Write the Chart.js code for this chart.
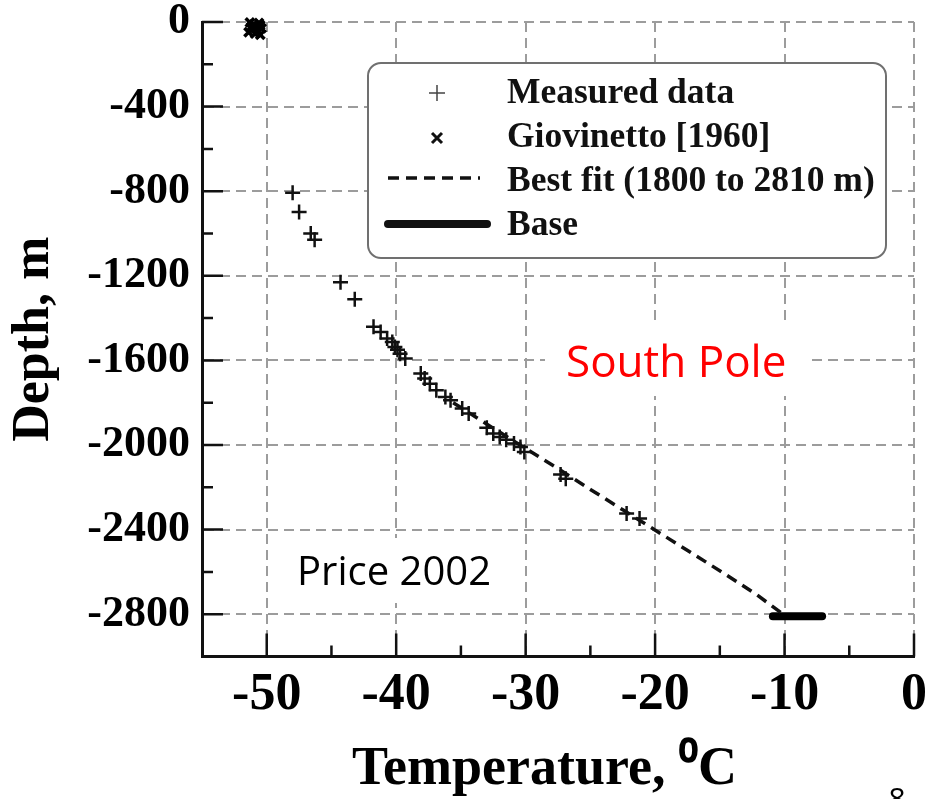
<!DOCTYPE html>
<html>
<head>
<meta charset="utf-8">
<script src="https://cdn.jsdelivr.net/npm/chart.js@4.4.1/dist/chart.umd.min.js"></script>
<style>
  html, body { margin: 0; padding: 0; background: #fff; }
  #depthChart { display: block; }
</style>
</head>
<body>
<canvas id="depthChart" width="936" height="799"></canvas>
<script>
// Borehole temperature vs depth, South Pole

// measured borehole temperatures (degC) and depths (m)
const measuredTemp = [-48.0, -47.5, -46.6, -46.3, -44.3, -43.2, -41.75, -41.2, -40.7, -40.3, -40.1,
  -39.9, -39.7, -39.3, -38.1, -37.8, -37.4, -36.9, -36.2, -35.8, -34.9, -34.4, -33.0, -32.5,
  -32.0, -31.5, -30.9, -30.4, -30.1, -27.3, -26.9, -22.2, -21.2];
const measuredDepth = [-807, -898, -1000, -1030, -1230, -1311, -1441, -1466, -1497, -1513, -1537,
  -1550, -1568, -1591, -1662, -1686, -1710, -1741, -1773, -1789, -1828, -1851, -1918, -1946,
  -1962, -1975, -1993, -2009, -2033, -2140, -2159, -2324, -2348];

// shallow firn temperatures, Giovinetto [1960]
const giovinettoTemp = [-51.3, -50.6, -51.0, -50.5, -51.2, -50.8, -50.4, -51.1, -50.7, -51.4, -50.9, -50.5];
const giovinettoDepth = [-2, -5, -12, -15, -22, -25, -30, -36, -42, -48, -55, -60];

// best fit over 1800 to 2810 m
const fitTemp = [-35.6, -32.9, -30.3, -27.6, -25.0, -22.4, -19.8, -17.2, -14.6, -12.1, -9.9];
const fitDepth = [-1800, -1905, -2005, -2108, -2210, -2310, -2410, -2510, -2610, -2710, -2810];

// ice sheet base
const baseTemp = [-10.9, -7.1];
const baseDepth = [-2810, -2810];

const tempTicks = [-50, -40, -30, -20, -10, 0];
const tempMinorTicks = [-45, -35, -25, -15, -5];
const depthTicks = [-2800, -2400, -2000, -1600, -1200, -800, -400, 0];
const depthMinorTicks = [-2600, -2200, -1800, -1400, -1000, -600, -200];

const SERIF = '"Liberation Serif", "Times New Roman", serif';
const SANS = '"Open Sans", "Noto Sans", sans-serif';
const INK = '#111';

function toPoints(xs, ys) {
    return xs.map((x, i) => ({ x: x, y: ys[i] }));
}

// short inward tick marks on the left and bottom axes
const tickMarks = {
    id: 'tickMarks',
    afterDraw(chart) {
        const { ctx, chartArea, scales: { x, y } } = chart;
        ctx.save();
        ctx.strokeStyle = INK;
        ctx.lineWidth = 2.5;
        ctx.beginPath();
        const xTick = (v, len) => {
            const px = x.getPixelForValue(v);
            ctx.moveTo(px, chartArea.bottom);
            ctx.lineTo(px, chartArea.bottom - len);
        };
        const yTick = (v, len) => {
            const py = y.getPixelForValue(v);
            ctx.moveTo(chartArea.left, py);
            ctx.lineTo(chartArea.left + len, py);
        };
        tempTicks.forEach(v => xTick(v, 23));
        tempMinorTicks.forEach(v => xTick(v, 11));
        depthTicks.forEach(v => yTick(v, 21));
        depthMinorTicks.forEach(v => yTick(v, 11));
        ctx.stroke();
        ctx.restore();
    }
};

// text notes on white patches
const notes = {
    id: 'notes',
    afterDraw(chart) {
        const ctx = chart.ctx;
        ctx.save();
        ctx.fillStyle = '#fff';
        ctx.fillRect(545, 326, 263, 70);
        ctx.fillRect(284, 538, 222, 65);
        ctx.textBaseline = 'alphabetic';
        ctx.textAlign = 'left';
        ctx.font = '44px ' + SANS;
        ctx.fillStyle = '#ff0000';
        ctx.fillText('South Pole', 566, 377);
        ctx.font = '40px ' + SANS;
        ctx.fillStyle = '#000';
        ctx.fillText('Price 2002', 297, 585);
        ctx.font = '30px ' + SANS;
        ctx.textAlign = 'center';
        ctx.fillText('8', 897, 809);
        ctx.restore();
    }
};

// rounded legend box inside the plot
const boxLegend = {
    id: 'boxLegend',
    afterDraw(chart) {
        const ctx = chart.ctx;
        const box = { left: 368, top: 63, right: 886, bottom: 258 };
        const baselines = [103, 147, 191, 235];
        const marks = [93, 138, 178, 224];
        ctx.save();
        ctx.beginPath();
        ctx.roundRect(box.left, box.top, box.right - box.left, box.bottom - box.top, 13);
        ctx.fillStyle = '#fff';
        ctx.fill();
        ctx.lineWidth = 2;
        ctx.strokeStyle = '#707070';
        ctx.stroke();

        chart.data.datasets.forEach((ds, i) => {
            const my = marks[i];
            ctx.save();
            ctx.strokeStyle = INK;
            ctx.beginPath();
            if (ds.showLine) {
                ctx.lineWidth = ds.borderWidth;
                ctx.lineCap = ds.borderCapStyle || 'butt';
                ctx.setLineDash(ds.borderDash || []);
                const end = ds.borderDash ? 480 : 487;
                ctx.moveTo(388, my);
                ctx.lineTo(end, my);
            } else if (ds.pointStyle === 'cross') {
                ctx.lineWidth = 1.5;
                ctx.strokeStyle = '#444';
                ctx.moveTo(429, my); ctx.lineTo(445, my);
                ctx.moveTo(437, my - 8); ctx.lineTo(437, my + 8);
            } else {
                ctx.lineWidth = 3;
                ctx.moveTo(432, my - 5); ctx.lineTo(442, my + 5);
                ctx.moveTo(442, my - 5); ctx.lineTo(432, my + 5);
            }
            ctx.stroke();
            ctx.restore();
            ctx.font = 'bold 35.5px ' + SERIF;
            ctx.fillStyle = INK;
            ctx.textBaseline = 'alphabetic';
            ctx.fillText(ds.label, 507, baselines[i]);
        });
        ctx.restore();
    }
};

const axisBase = {
    type: 'linear',
    grid: { color: '#9c9c9c', lineWidth: 2, drawTicks: false },
    border: { display: true, color: INK, width: 3, dash: [10, 6] }
};

new Chart(document.getElementById('depthChart'), {
    type: 'scatter',
    data: {
        datasets: [{
            label: 'Measured data',
            data: toPoints(measuredTemp, measuredDepth),
            pointStyle: 'cross',
            pointRadius: 7.5,
            pointBorderWidth: 2.5,
            borderColor: INK,
            backgroundColor: INK
        }, {
            label: 'Giovinetto [1960]',
            data: toPoints(giovinettoTemp, giovinettoDepth),
            pointStyle: 'crossRot',
            pointRadius: 6,
            pointBorderWidth: 3.5,
            borderColor: '#000',
            backgroundColor: '#000',
            clip: false
        }, {
            label: 'Best fit (1800 to 2810 m)',
            data: toPoints(fitTemp, fitDepth),
            showLine: true,
            borderDash: [11, 7],
            borderWidth: 3.5,
            borderColor: INK,
            pointRadius: 0
        }, {
            label: 'Base',
            data: toPoints(baseTemp, baseDepth),
            showLine: true,
            borderWidth: 8,
            borderCapStyle: 'round',
            borderColor: '#000',
            pointRadius: 0
        }]
    },
    options: {
        responsive: false,
        animation: false,
        events: [],
        layout: { padding: { top: 22, right: 22, left: 0, bottom: 0 } },
        plugins: {
            legend: { display: false },
            tooltip: { enabled: false }
        },
        scales: {
            x: {
                ...axisBase,
                min: -55,
                max: 0,
                afterBuildTicks: scale => { scale.ticks = tempTicks.map(v => ({ value: v })); },
                afterFit: scale => {
                    scale.height = 142.5;
                    scale.paddingLeft = 0;
                    scale.paddingRight = 0;
                },
                ticks: {
                    color: '#000',
                    padding: 8,
                    maxRotation: 0,
                    autoSkip: false,
                    callback: v => String(v),
                    font: { family: SERIF, size: 52, weight: 'bold', lineHeight: 1.2 }
                },
                title: {
                    display: true,
                    text: 'Temperature, \u2070C\u2002',
                    color: '#000',
                    padding: { top: 0, bottom: 2 },
                    font: { family: SERIF, size: 54, weight: 'bold', lineHeight: 1 }
                }
            },
            y: {
                ...axisBase,
                min: -3000,
                max: 0,
                afterBuildTicks: scale => { scale.ticks = depthTicks.map(v => ({ value: v })); },
                afterFit: scale => {
                    scale.width = 202;
                    scale.paddingTop = 0;
                    scale.paddingBottom = 0;
                },
                ticks: {
                    color: '#000',
                    padding: 12,
                    autoSkip: false,
                    callback: v => String(v),
                    font: { family: SERIF, size: 44, weight: 'bold', lineHeight: 1 }
                },
                title: {
                    display: true,
                    text: 'Depth, m',
                    color: '#000',
                    padding: { top: 9, bottom: 0 },
                    font: { family: SERIF, size: 52, weight: 'bold', lineHeight: 1 }
                }
            }
        }
    },
    plugins: [tickMarks, notes, boxLegend]
});
</script>
</body>
</html>
